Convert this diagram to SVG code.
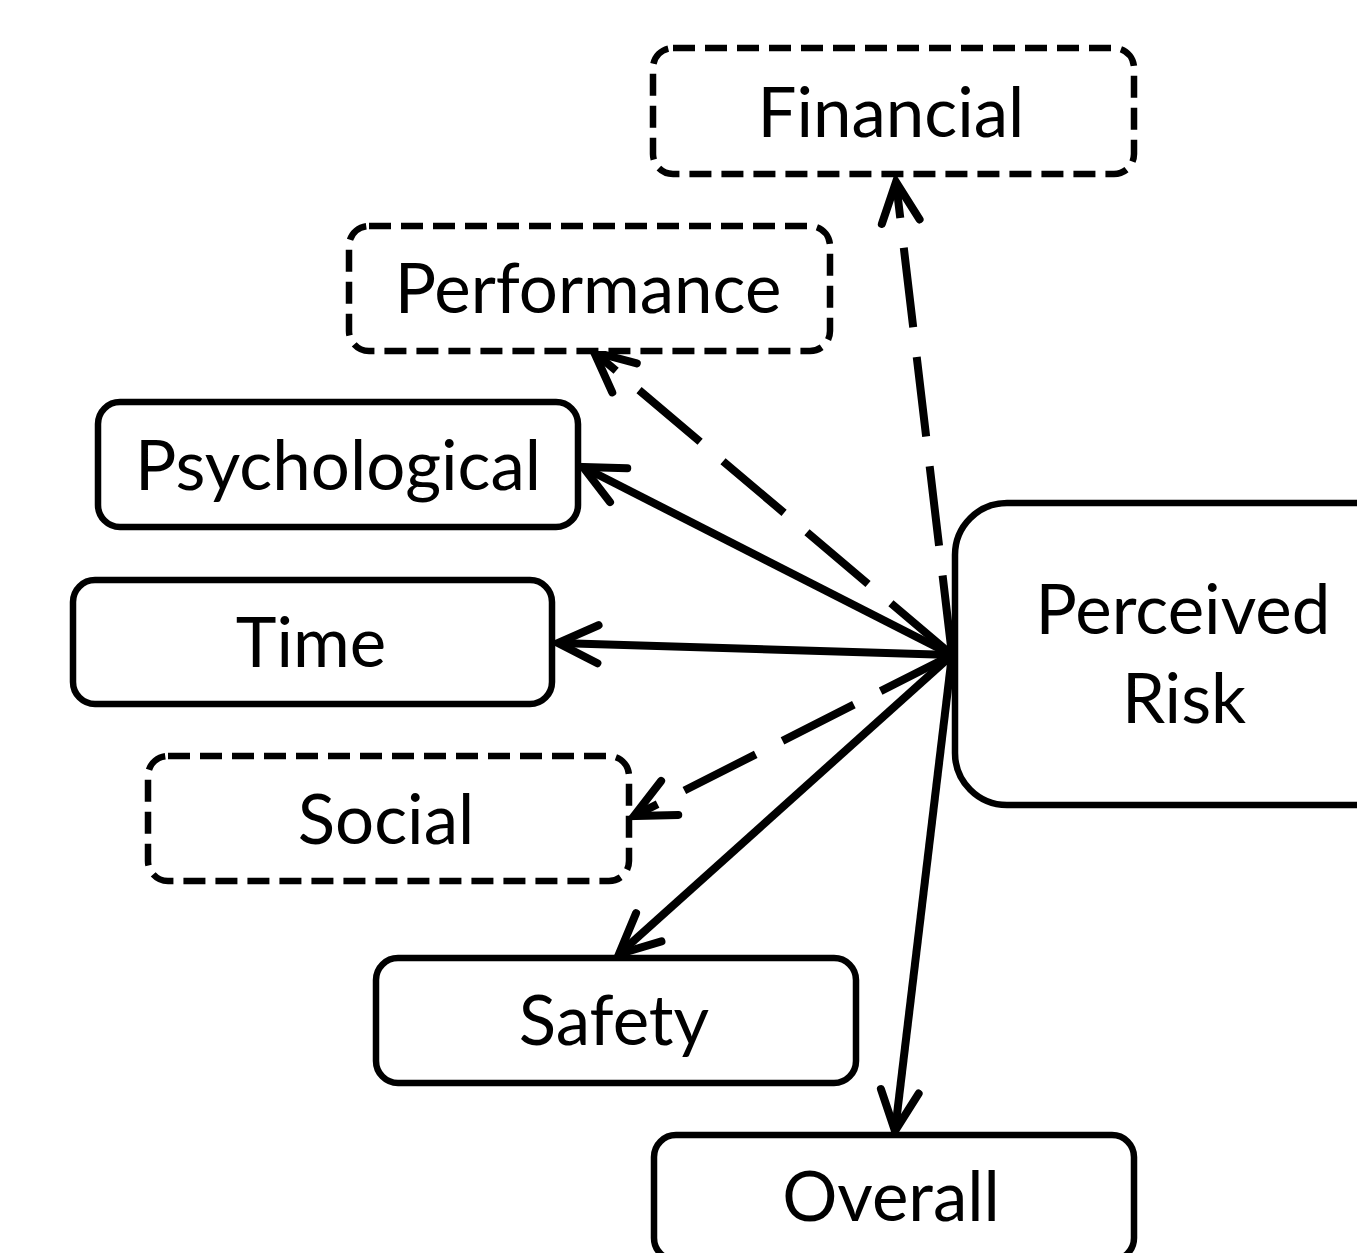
<svg xmlns="http://www.w3.org/2000/svg" width="1357" height="1253" viewBox="0 0 1357 1253">
  <defs>
    <style>
      .box { fill: #ffffff; stroke: #000000; stroke-width: 6.5; }
      .dashed { stroke-dasharray: 22 10; }
      .label { font-family: Lato, "Liberation Sans", sans-serif; font-size: 69px; fill: #000000; text-anchor: middle; }
      .link { fill: none; stroke: #000000; stroke-width: 8; marker-end: url(#chevron); }
      .link.dash { stroke-dasharray: 80 30; }
    </style>
    <marker id="chevron" markerUnits="userSpaceOnUse" viewBox="-50 -30 60 60" refX="0" refY="0" markerWidth="60" markerHeight="60" orient="auto">
      <path d="M -40 -19 L 0 0 L -40 19" fill="none" stroke="#000000" stroke-width="8" stroke-linecap="round" stroke-linejoin="miter"/>
    </marker>
  </defs>

  <rect width="1357" height="1253" fill="#ffffff"/>

  <!-- connectors radiating from the Perceived Risk node -->
  <g id="connectors">
    <path class="link dash" d="M 952 655 L 896 182"/>
    <path class="link dash" d="M 952 655 L 594 352"/>
    <path class="link" d="M 952 655 L 583 467"/>
    <path class="link" d="M 952 655 L 558 643"/>
    <path class="link dash" d="M 952 655 L 634 816"/>
    <path class="link" d="M 952 655 L 619 954"/>
    <path class="link" d="M 952 655 L 895 1131"/>
  </g>

  <g id="node-financial">
    <rect class="box dashed" x="653" y="48" width="481" height="126" rx="20"/>
    <text class="label" x="891" y="137">Financial</text>
  </g>

  <g id="node-performance">
    <rect class="box dashed" x="349" y="226" width="481" height="125" rx="20"/>
    <text class="label" x="588" y="313">Performance</text>
  </g>

  <g id="node-psychological">
    <rect class="box" x="98" y="402" width="480" height="125" rx="22"/>
    <text class="label" x="338" y="490">Psychological</text>
  </g>

  <g id="node-time">
    <rect class="box" x="73" y="580" width="479" height="124" rx="22"/>
    <text class="label" x="311" y="667">Time</text>
  </g>

  <g id="node-social">
    <rect class="box dashed" x="148" y="756" width="481" height="125" rx="20"/>
    <text class="label" x="386" y="844">Social</text>
  </g>

  <g id="node-safety">
    <rect class="box" x="376" y="958" width="480" height="125" rx="22"/>
    <text class="label" x="614" y="1045">Safety</text>
  </g>

  <g id="node-overall">
    <rect class="box" x="654" y="1135" width="480" height="125" rx="22"/>
    <text class="label" x="891" y="1221">Overall</text>
  </g>

  <g id="node-perceived-risk">
    <rect class="box" x="955" y="503" width="460" height="302" rx="52"/>
    <text class="label" x="1183" y="634">Perceived</text>
    <text class="label" x="1184" y="723">Risk</text>
  </g>
</svg>
